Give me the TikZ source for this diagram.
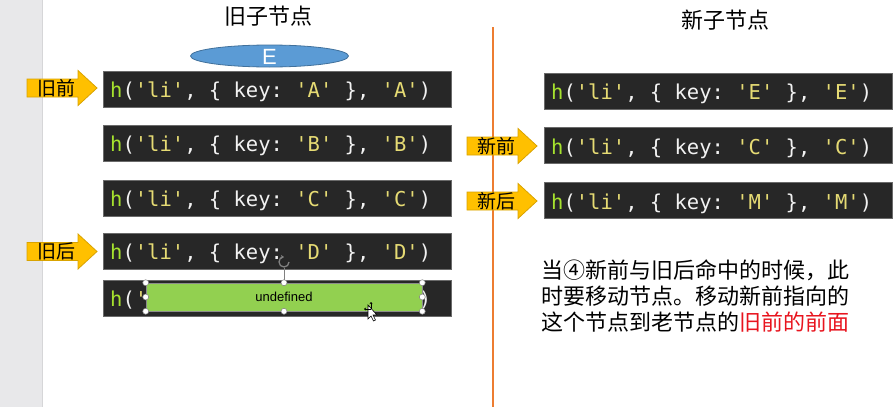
\documentclass[tikz,border=0pt]{standalone}
\usepackage{fontspec}
\setmainfont{Liberation Sans}
\setsansfont{Liberation Sans}
\setmonofont{DejaVu Sans Mono}
\newfontfamily\cjk{Noto Sans CJK SC}
\usetikzlibrary{shapes.geometric,arrows.meta}
\definecolor{stripgray}{HTML}{E8E8EA}
\definecolor{stripline}{HTML}{D6D6D8}
\definecolor{codebg}{HTML}{272727}
\definecolor{codeedge}{HTML}{6A6A6A}
\definecolor{cgreen}{HTML}{A6E22E}
\definecolor{cyellow}{HTML}{E6DB74}
\definecolor{cwhite}{HTML}{F2F2F2}
\definecolor{eblue}{HTML}{5B9BD5}
\definecolor{eblueline}{HTML}{41719C}
\definecolor{yfill}{HTML}{FFC000}
\definecolor{yline}{HTML}{D9A300}
\definecolor{vline}{HTML}{ED7D31}
\definecolor{redtxt}{HTML}{E8141E}
\definecolor{gbox}{HTML}{92D050}
\definecolor{gboxline}{HTML}{8C8C8C}
\newcommand\hcode[1]{\textcolor{cgreen}{h}(\textcolor{cyellow}{'li'}, \{ key: \textcolor{cyellow}{'#1'} \}, \textcolor{cyellow}{'#1'})}
\newcommand\yarrow[4]{%
  \draw[yarrowstyle] (#2,#3-9) -- ++(51,0) -- ++(0,-8.5) -- ++(19,17.5) -- ++(-19,17.5) -- ++(0,-8.5) -- ++(-51,0) -- cycle;
  \node[arrowlabel] (#1) at (#2+29.5,#3) {#4};}
\begin{document}
\begin{tikzpicture}[x=1pt,y=-1pt,
  codebox/.style={draw=codeedge,line width=0.6pt,fill=codebg,minimum width=348pt,minimum height=36pt,inner sep=0pt},
  codetext/.style={anchor=base west,inner sep=0pt,text=cwhite,font=\ttfamily\fontsize{20.5}{22}\selectfont},
  yarrowstyle/.style={fill=yfill,draw=yline,line width=0.8pt,line join=miter},
  arrowlabel/.style={inner sep=0pt,font=\cjk\fontsize{19}{20}\selectfont,text=black},
  title/.style={inner sep=0pt,font=\cjk\fontsize{22}{24}\selectfont,text=black},
  bodytext/.style={anchor=west,inner sep=0pt,font=\cjk\fontsize{22}{24}\selectfont,text=black},
  handle/.style={circle,fill=white,draw=gray,line width=0.5pt,minimum size=6pt,inner sep=0pt}]
\useasboundingbox (0,0) rectangle (896,407);
\fill[white] (0,0) rectangle (896,407);
\fill[stripgray] (0,0) rectangle (42,407);
\draw[stripline,line width=0.8pt] (42,0) -- (42,407);
% divider
\coordinate (vtop) at (493,27);
\coordinate (vbot) at (493,407);
\draw[vline,line width=1.3pt] (vtop) -- (vbot);
% titles
\node[title] (oldtitle) at (268,16) {旧子节点};
\node[title] (newtitle) at (725,20) {新子节点};
% ellipse E
\node[ellipse,fill=eblue,draw=eblueline,line width=0.8pt,minimum width=158pt,minimum height=22pt,inner sep=0pt] (Eell) at (269.5,56) {};
\node[inner sep=0pt,text=white,font=\sffamily\fontsize{22}{22}\selectfont] (Etxt) at (269.5,57) {E};
% old code boxes
\node[codebox] (o1) at (277,89) {};
\node[codebox] (o2) at (277,143) {};
\node[codebox] (o3) at (277,198) {};
\node[codebox] (o4) at (277,251) {};
\node[codebox] (o5) at (277,298) {};
\node[codetext] (t1) at (110,97.5) {\hcode{A}};
\node[codetext] (t2) at (110,151.5) {\hcode{B}};
\node[codetext] (t3) at (110,206.5) {\hcode{C}};
\node[codetext] (t4) at (110,259.5) {\hcode{D}};
\node[codetext] (t5) at (110,306.5) {\textcolor{cgreen}{h}(\textcolor{cyellow}{'}\phantom{li', \{ key: 'E' \}, 'E'})};
% new code boxes
\node[codebox] (n1) at (718,91) {};
\node[codebox] (n2) at (718,145.5) {};
\node[codebox] (n3) at (718,200.5) {};
\node[codetext] (m1) at (551,99.5) {\hcode{E}};
\node[codetext] (m2) at (551,154) {\hcode{C}};
\node[codetext] (m3) at (551,209) {\hcode{M}};
% pointer arrows
\yarrow{oldfront}{27}{88}{旧前}
\yarrow{oldback}{27}{251.5}{旧后}
\yarrow{newfront}{467}{146}{新前}
\yarrow{newback}{467}{201}{新后}
% selected green box
\node[draw=gboxline,line width=0.6pt,fill=gbox,minimum width=276pt,minimum height=28pt,inner sep=0pt,font=\sffamily\fontsize{13}{14}\selectfont] (gb) at (284,297) {undefined};
\coordinate (rot) at (284,268);
\draw[gray,line width=0.8pt] (gb.north) -- (rot);
\draw[gray,line width=1.3pt,-{Stealth[length=3pt,width=4pt]}] (289,262) arc[start angle=0,end angle=-270,radius=5pt];
\foreach \a in {north west,north,north east,west,east,south west,south,south east}
  \node[handle] at (gb.\a) {};
% mouse cursor
\draw[fill=white,draw=black,line width=0.6pt] (368,305) -- (368,319) -- (371,316) -- (373.5,321) -- (375.5,320) -- (373,315) -- (377,315) -- cycle;
\draw[black,line width=0.7pt,-{Stealth[length=2pt,width=3pt]}] (371,309) -- (371,302);
\draw[black,line width=0.7pt,-{Stealth[length=2pt,width=3pt]}] (371,309) -- (364,309);
% explanation text
\node[bodytext] (l1) at (541,270.5) {当④新前与旧后命中的时候，此};
\node[bodytext] (l2) at (541,296) {时要移动节点。移动新前指向的};
\node[bodytext] (l3) at (541,322) {这个节点到老节点的\textcolor{redtxt}{旧前的前面}};
\end{tikzpicture}
\end{document}
